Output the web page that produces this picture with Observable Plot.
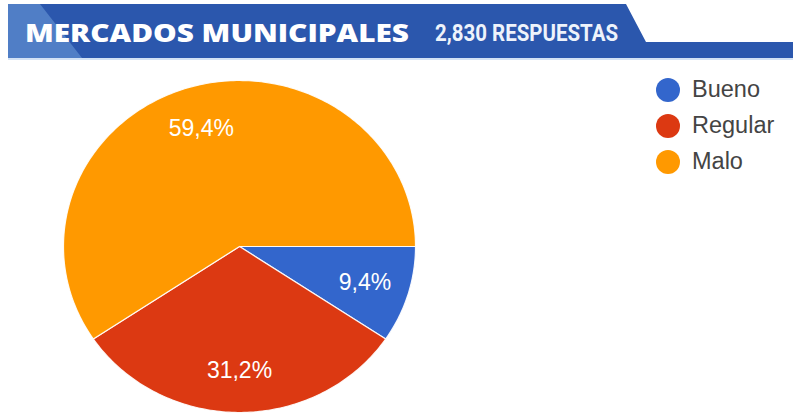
<!DOCTYPE html>
<html>
<head>
<meta charset="utf-8">
<script src="https://cdn.jsdelivr.net/npm/d3@7"></script>
<script src="https://cdn.jsdelivr.net/npm/@observablehq/plot@0.6"></script>
<style>
  html, body { margin: 0; padding: 0; background: #fff; }
  #wrap { position: relative; width: 793px; height: 417px; overflow: hidden; font-family: "Liberation Sans", Arial, sans-serif; }
  #header { display: block; }
  #legend { position: absolute; left: 656px; top: 72px; }
  .row { display: flex; align-items: center; height: 36px; }
  .sw { width: 24px; height: 24px; border-radius: 50%; margin-right: 12px; }
  .lab { font-size: 23.5px; color: #444; line-height: 1; }
</style>
</head>
<body>
<div id="wrap">
  <svg id="header" width="793" height="60">
    <polygon points="8,4 626,4 646,42 793,42 793,58 8,58" fill="#2b57ad"></polygon>
    <polygon points="8,4 40,4 82,58 8,58" fill="#5a88cc" opacity="0.8"></polygon>
    <rect x="8" y="58" width="785" height="3" fill="#d3e2f5"></rect>
    <text x="25" y="42" fill="#ffffff" font-family="'Open Sans', 'DejaVu Sans', sans-serif" font-weight="800" font-size="25" textLength="384" lengthAdjust="spacingAndGlyphs">MERCADOS MUNICIPALES</text>
    <text x="435" y="41" fill="#eef3fb" font-family="'Liberation Sans Narrow', Roboto, sans-serif" font-weight="700" font-size="23" textLength="183" lengthAdjust="spacingAndGlyphs">2,830 RESPUESTAS</text>
  </svg>
  <div id="chart"></div>
  <div id="legend"></div>
</div>
<script>
// ---- data ----
const categories = ["Bueno", "Regular", "Malo"];
const values = [9.4, 31.2, 59.4];
const colors = ["#3366cc", "#dc3912", "#ff9900"];

// ---- layout from data (pie angles, clockwise from 3 o'clock) ----
const rows = categories.map((c, i) => ({category: c, value: values[i]}));
const arcs = d3.pie().value(d => d.value).sort(null)
  .startAngle(Math.PI / 2).endAngle(Math.PI / 2 + 2 * Math.PI)(rows);

const slicePts = [];
arcs.forEach(a => {
  const c = a.data.category;
  slicePts.push({category: c, u: 0, v: 0});
  const n = Math.max(2, Math.ceil((a.endAngle - a.startAngle) / (Math.PI / 180)));
  for (let k = 0; k <= n; k++) {
    const t = a.startAngle + (a.endAngle - a.startAngle) * k / n;
    slicePts.push({category: c, u: Math.sin(t), v: Math.cos(t)});
  }
  slicePts.push({category: c, u: 0, v: 0});
});

const labelR = 0.745;
const fmt = v => d3.format(".1f")(v).replace(".", ",") + "%";
const labels = arcs.map(a => {
  const m = (a.startAngle + a.endAngle) / 2;
  return {category: a.data.category, u: Math.sin(m) * labelR, v: Math.cos(m) * labelR, text: fmt(a.data.value)};
});

// pixel geometry of the plot area
const W = 793, H = 357, cx = 239, cy = 186, rx = 176, ry = 166;

const chart = Plot.plot({
  width: W,
  height: H,
  margin: 0,
  x: {domain: [-cx / rx, (W - cx) / rx], axis: null},
  y: {domain: [-(H - cy) / ry, cy / ry], axis: null},
  color: {domain: categories, range: colors},
  marks: [
    Plot.line(slicePts, {x: "u", y: "v", z: "category", fill: "category", stroke: "#ffffff", strokeWidth: 1.2, strokeOpacity: 0.9}),
    Plot.text(labels, {x: "u", y: "v", text: "text", fill: "#ffffff", fontSize: 23, fontFamily: "'Liberation Sans', Arial, sans-serif"})
  ]
});
document.getElementById("chart").appendChild(chart);

// legend
const leg = document.getElementById("legend");
categories.forEach((c, i) => {
  const r = document.createElement("div");
  r.className = "row";
  r.innerHTML = `<div class="sw" style="background:${colors[i]}"></div><div class="lab">${c}</div>`;
  leg.appendChild(r);
});
</script>
</body>
</html>
